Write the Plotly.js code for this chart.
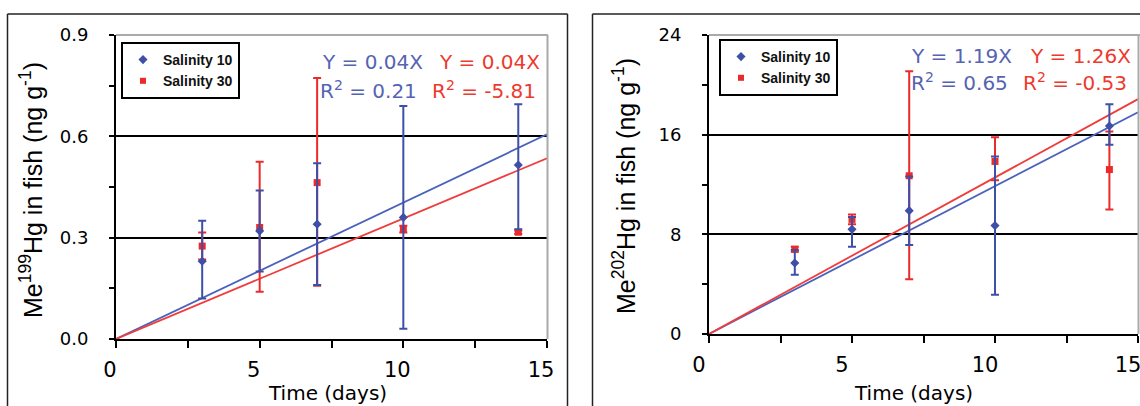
<!DOCTYPE html>
<html>
<head>
<meta charset="utf-8">
<script src="https://cdn.plot.ly/plotly-3.0.1.min.js"></script>
<style>html,body{margin:0;padding:0;background:#fff;}#chart{width:1140px;height:406px;}</style>
</head>
<body>
<div id="chart"></div>
<script>
// ---- data ----
var days = [3, 5, 7, 10, 14];
var seriesNames = ['Salinity 10', 'Salinity 30'];

// Panel A: Me199Hg (ng g-1)
var s10_199 = [0.23, 0.32, 0.34, 0.36, 0.515];
var s10_199_errPlus = [0.12, 0.12, 0.18, 0.33, 0.18];
var s10_199_errMinus = [0.11, 0.12, 0.18, 0.33, 0.19];
var s30_199 = [0.275, 0.33, 0.463, 0.325, 0.316];
var s30_199_errPlus = [0.04, 0.195, 0.31, 0.01, 0.005];
var s30_199_errMinus = [0.04, 0.19, 0.305, 0.01, 0.005];

// Panel B: Me202Hg (ng g-1)
var s10_202 = [5.7, 8.4, 9.9, 8.7, 16.7];
var s10_202_errPlus = [1.05, 1.0, 2.75, 5.55, 1.75];
var s10_202_errMinus = [0.95, 1.4, 2.75, 5.55, 1.5];
var s30_202 = [6.8, 9.2, 12.7, 13.85, 13.2];
var s30_202_errPlus = [0.2, 0.4, 8.4, 1.95, 3.05];
var s30_202_errMinus = [0.2, 0.4, 8.3, 1.5, 3.2];

// Fitted lines through the origin (end points)
var fitDays = [0, 15];
var fit10_199 = [0, 0.606];
var fit30_199 = [0, 0.535];
var fit10_202 = [0, 17.8];
var fit30_202 = [0, 18.85];

// Equation labels
var eqA = ['Y = 0.04X', 'Y = 0.04X', 'R<sup>2</sup> = 0.21', 'R<sup>2</sup> = -5.81'];
var eqB = ['Y = 1.19X', 'Y = 1.26X', 'R<sup>2</sup> = 0.65', 'R<sup>2</sup> = -0.53'];
var yTitles = ['Me<sup>199</sup>Hg in fish (ng g<sup>-1</sup>)', 'Me<sup>202</sup>Hg in fish (ng g<sup>-1</sup>)'];
var xTitle = 'Time (days)';
var xTickVals = [0, 5, 10, 15];
var xTickText = ['0', '5', '10', '15'];
var yTickValsA = [0, 0.3, 0.6, 0.9];
var yTickTextA = ['0.0', '0.3', '0.6', '0.9'];
var yTickValsB = [0, 8, 16, 24];
var yTickTextB = ['0', '8', '16', '24'];

// ---- styling ----
var W = 1140, H = 406;
function px(x) { return x / W; }
function py(y) { return 1 - y / H; }
var BLUE = '#3d4fa6', RED = '#ec2a2a';
var BLUE_T = '#5663b3', RED_T = '#ec3a2e';
var FLINE_B = '#4a62bb', FLINE_R = '#f03c3c';
var TF = 'DejaVu Sans, sans-serif';

function pts(x, y, ep, em, name, color, symbol, xa, ya, leg, show) {
  return {
    type: 'scatter', mode: 'markers', x: x, y: y, name: name,
    xaxis: xa, yaxis: ya, legend: leg, showlegend: show,
    marker: {color: color, symbol: symbol, size: 7},
    error_y: {type: 'data', symmetric: false, array: ep, arrayminus: em,
              color: color, thickness: 2, width: 4},
    cliponaxis: false
  };
}
function fit(x, y, color, xa, ya) {
  return {type: 'scatter', mode: 'lines', x: x, y: y, xaxis: xa, yaxis: ya,
          showlegend: false, hoverinfo: 'skip',
          line: {color: color, width: 1.8}};
}

var traces = [
  fit(fitDays, fit10_199, FLINE_B, 'x', 'y'),
  fit(fitDays, fit30_199, FLINE_R, 'x', 'y'),
  pts(days, s30_199, s30_199_errPlus, s30_199_errMinus, seriesNames[1], RED, 'square', 'x', 'y', 'legend', false),
  pts(days, s10_199, s10_199_errPlus, s10_199_errMinus, seriesNames[0], BLUE, 'diamond', 'x', 'y', 'legend', false),
  fit(fitDays, fit10_202, FLINE_B, 'x2', 'y2'),
  fit(fitDays, fit30_202, FLINE_R, 'x2', 'y2'),
  pts(days, s30_202, s30_202_errPlus, s30_202_errMinus, seriesNames[1], RED, 'square', 'x2', 'y2', 'legend2', false),
  pts(days, s10_202, s10_202_errPlus, s10_202_errMinus, seriesNames[0], BLUE, 'diamond', 'x2', 'y2', 'legend2', false)
];
// legend entries (order: Salinity 10, Salinity 30)
traces.push({type:'scatter', mode:'markers', x:[null], y:[null], name: seriesNames[0], xaxis:'x', yaxis:'y', legend:'legend', marker:{color:BLUE, symbol:'diamond', size:7}});
traces.push({type:'scatter', mode:'markers', x:[null], y:[null], name: seriesNames[1], xaxis:'x', yaxis:'y', legend:'legend', marker:{color:RED, symbol:'square', size:6}});
traces.push({type:'scatter', mode:'markers', x:[null], y:[null], name: seriesNames[0], xaxis:'x2', yaxis:'y2', legend:'legend2', marker:{color:BLUE, symbol:'diamond', size:7}});
traces.push({type:'scatter', mode:'markers', x:[null], y:[null], name: seriesNames[1], xaxis:'x2', yaxis:'y2', legend:'legend2', marker:{color:RED, symbol:'square', size:6}});

function xaxis(domain, anchor, shift) {
  return {
    domain: domain, anchor: anchor, range: [0, 15],
    tickvals: xTickVals, ticktext: xTickText,
    ticks: 'outside', ticklen: 7, tickwidth: 2, tickcolor: '#000',
    minor: {tickvals: [2.5, 7.5, 12.5], ticks: 'outside', ticklen: 7, tickwidth: 2, tickcolor: '#000', showgrid: false},
    showline: true, linewidth: 2, linecolor: '#000',
    showgrid: false, zeroline: false, fixedrange: true,
    ticklabelstandoff: 4, ticklabelshift: shift, ticklabeloverflow: 'allow',
    tickfont: {family: TF, size: 21, color: '#000'}
  };
}
function yaxis(domain, anchor, range, tv, tt, minorVals) {
  return {
    domain: domain, anchor: anchor, range: range,
    tickvals: tv, ticktext: tt,
    ticks: 'outside', ticklen: 5, tickwidth: 2, tickcolor: '#000',
    minor: {tickvals: minorVals, ticks: 'outside', ticklen: 5, tickwidth: 2, tickcolor: '#000', showgrid: false},
    showline: true, linewidth: 2, linecolor: '#000',
    showgrid: true, gridcolor: '#000', gridwidth: 2,
    zeroline: false, fixedrange: true,
    ticklabelstandoff: 17,
    tickfont: {family: TF, size: 18, color: '#000'}
  };
}

var dA = [px(116), px(547)], dB = [px(709), px(1138)];
var dyA = [py(339), py(35)], dyB = [py(334), py(35)];

function ann(text, x, y, color, anchor) {
  return {text: text, xref: 'paper', yref: 'paper', x: px(x), y: py(y),
          xanchor: anchor || 'left', yanchor: 'middle', showarrow: false,
          font: {family: TF, size: 20, color: color}};
}
function ytitle(text, x, y) {
  return {text: text, xref: 'paper', yref: 'paper', x: px(x), y: py(y),
          xanchor: 'center', yanchor: 'middle', showarrow: false, textangle: -90,
          font: {family: 'Liberation Sans, Arial, sans-serif', size: 25, color: '#000'}};
}
function xtitle(text, x, y) {
  return {text: text, xref: 'paper', yref: 'paper', x: px(x), y: py(y),
          xanchor: 'center', yanchor: 'middle', showarrow: false,
          font: {family: TF, size: 20, color: '#000'}};
}
function hline(x0, x1, y, color, w) {
  return {type: 'line', xref: 'paper', yref: 'paper', x0: px(x0), x1: px(x1), y0: py(y), y1: py(y),
          line: {color: color, width: w}, layer: 'above'};
}
function vline(x, y0, y1, color, w) {
  return {type: 'line', xref: 'paper', yref: 'paper', x0: px(x), x1: px(x), y0: py(y0), y1: py(y1),
          line: {color: color, width: w}, layer: 'above'};
}

var legendStyle = function (x, y) {
  return {x: px(x), y: py(y), xanchor: 'left', yanchor: 'top',
          bgcolor: '#fff', bordercolor: '#000', borderwidth: 2,
          font: {family: 'Liberation Sans, Arial, sans-serif', size: 14, color: '#111', weight: 'bold'},
          itemwidth: 30, tracegroupgap: 0};
};

var layout = {
  width: W, height: H,
  margin: {l: 0, r: 0, t: 0, b: 0},
  paper_bgcolor: '#fff', plot_bgcolor: '#fff',
  showlegend: true,
  xaxis: xaxis(dA, 'y', -6),
  yaxis: yaxis(dyA, 'x', [0, 0.9], yTickValsA, yTickTextA, [0.15, 0.45, 0.75]),
  xaxis2: xaxis(dB, 'y2', -10),
  yaxis2: yaxis(dyB, 'x2', [0, 24], yTickValsB, yTickTextB, [4, 12, 20]),
  legend: legendStyle(121, 42),
  legend2: legendStyle(719, 39),
  annotations: [
    ann(eqA[0], 320, 62, BLUE_T), ann(eqA[1], 437, 62, RED_T),
    ann(eqA[2], 318, 90, BLUE_T), ann(eqA[3], 430, 90, RED_T),
    ann(eqB[0], 909, 56, BLUE_T), ann(eqB[1], 1028, 56, RED_T),
    ann(eqB[2], 909, 82, BLUE_T), ann(eqB[3], 1021, 82, RED_T),
    ytitle(yTitles[0], 31, 190), ytitle(yTitles[1], 624, 186),
    xtitle(xTitle, 327, 393), xtitle(xTitle, 913, 393)
  ],
  shapes: [
    // outer panel frames
    hline(7.5, 567.5, 14, '#222', 1.5), vline(7.5, 14, 420, '#222', 1.5), vline(567.5, 14, 420, '#222', 1.5),
    hline(592.5, 1150, 14, '#222', 1.5), vline(592.5, 14, 420, '#222', 1.5),
    // grey top/right plot borders
    hline(116, 548, 35, '#aaa', 2), vline(547.5, 35, 339, '#aaa', 2),
    hline(709, 1140, 35, '#aaa', 2), vline(1138.5, 35, 334, '#aaa', 2)
  ]
};

Plotly.newPlot('chart', traces, layout, {displayModeBar: false, staticPlot: true});
</script>
</body>
</html>
